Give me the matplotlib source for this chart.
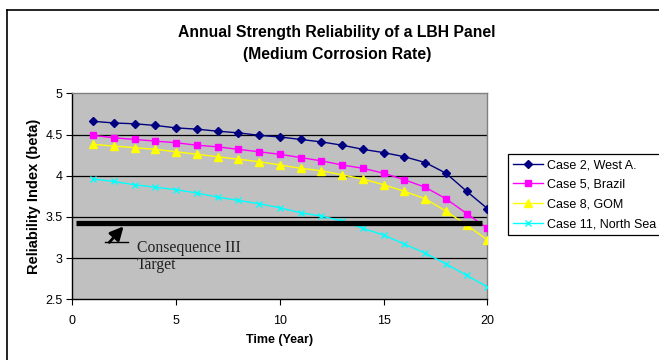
import matplotlib
matplotlib.use("Agg")
import matplotlib.pyplot as plt
from matplotlib.lines import Line2D

years = list(range(1, 21))
case2 = [4.66, 4.64, 4.63, 4.61, 4.58, 4.565, 4.54, 4.52, 4.49, 4.47,
         4.44, 4.41, 4.37, 4.32, 4.28, 4.23, 4.16, 4.03, 3.81, 3.60]
case5 = [4.49, 4.46, 4.44, 4.42, 4.40, 4.37, 4.35, 4.32, 4.29, 4.26,
         4.22, 4.18, 4.13, 4.09, 4.03, 3.95, 3.86, 3.72, 3.54, 3.36]
case8 = [4.38, 4.36, 4.34, 4.32, 4.29, 4.26, 4.23, 4.20, 4.17, 4.13,
         4.09, 4.06, 4.01, 3.96, 3.89, 3.81, 3.72, 3.57, 3.40, 3.22]
case11 = [3.96, 3.93, 3.89, 3.86, 3.83, 3.79, 3.74, 3.70, 3.66, 3.61,
          3.55, 3.51, 3.45, 3.36, 3.28, 3.17, 3.06, 2.93, 2.79, 2.65]
series_labels = ["Case 2, West A.", "Case 5, Brazil", "Case 8, GOM", "Case 11, North Sea"]
target_beta = 3.42
target_x = [0.2, 19.75]

plt.rcParams['font.family'] = ['Liberation Sans', 'DejaVu Sans']

fig = plt.figure(figsize=(6.59, 3.60), dpi=100)
fig.patch.set_facecolor('white')
ax = fig.add_axes([72.3/659, 1-299.3/360, (487.5-72.3)/659, (299.3-93.3)/360])
ax.set_facecolor('#C0C0C0')

# gridlines
for yv in [3.0, 3.5, 4.0, 4.5]:
    ax.axhline(yv, color='black', lw=0.9, zorder=1)

ax.plot(years, case2, color='#000080', marker='D', ms=4.5, lw=1.0, label=series_labels[0], zorder=3)
ax.plot(years, case5, color='#FF00FF', marker='s', ms=5.0, lw=1.0, label=series_labels[1], zorder=3)
ax.plot(years, case8, color='#FFFF00', marker='^', ms=5.5, lw=1.0, label=series_labels[2], zorder=3)
ax.plot(years, case11, color='#00FFFF', marker='x', ms=5.0, mew=1.0, lw=1.0, label=series_labels[3], zorder=3)

# target bar
ax.plot(target_x, [target_beta, target_beta], color='black', lw=3.8, solid_capstyle='butt', zorder=5)

# callout arrow
ax.plot([1.58, 2.70], [3.19, 3.19], color='black', lw=1.0, zorder=5)
ax.annotate('', xy=(2.47, 3.385), xytext=(1.78, 3.19),
            arrowprops=dict(arrowstyle='-|>,head_length=0.8,head_width=0.4', color='black', lw=2.0,
                            shrinkA=0, shrinkB=0),
            zorder=5)
ax.text(3.10, 3.225, 'Consequence III\nTarget', family=['Liberation Serif', 'DejaVu Serif'],
        fontsize=11.3, va='top', ha='left', linespacing=1.1, color='#202020', zorder=5)

ax.set_xlim(0, 20)
ax.set_ylim(2.5, 5)
ax.set_xticks([0, 5, 10, 15, 20])
ax.set_yticks([2.5, 3, 3.5, 4, 4.5, 5])
ax.set_yticklabels(['2.5', '3', '3.5', '4', '4.5', '5'])
ax.tick_params(axis='both', direction='out', length=4, width=0.8, labelsize=9, colors='black', pad=3)
ax.tick_params(axis='x', pad=7)

for side in ['top', 'right']:
    ax.spines[side].set_color('#808080')
    ax.spines[side].set_linewidth(1.0)
for side in ['left', 'bottom']:
    ax.spines[side].set_color('black')
    ax.spines[side].set_linewidth(1.0)

ax.set_xlabel('Time (Year)', fontsize=9, fontweight='bold', labelpad=5)
ax.set_ylabel('Reliability Index (beta)', fontsize=10.5, fontweight='bold', labelpad=3)

fig.text(337/659, 1-32/360, 'Annual Strength Reliability of a LBH Panel', ha='center', va='center',
         fontsize=11.3, fontweight='bold')
fig.text(337/659, 1-55/360, '(Medium Corrosion Rate)', ha='center', va='center',
         fontsize=11.3, fontweight='bold')

leg = ax.legend(loc='upper left', bbox_to_anchor=(508/659, 1-154/360), bbox_transform=fig.transFigure,
                fontsize=9, frameon=True, fancybox=False, shadow=False, framealpha=1,
                edgecolor='black', facecolor='white', handlelength=2.4, handletextpad=0.35,
                labelspacing=0.62, borderpad=0.4, borderaxespad=0)
leg.get_frame().set_linewidth(0.9)

# outer chart border (top and left visible)
fig.add_artist(Line2D([7/659, 1.0], [1-10/360, 1-10/360], transform=fig.transFigure, color='black', lw=1.2))
fig.add_artist(Line2D([7/659, 7/659], [0.0, 1-10/360], transform=fig.transFigure, color='black', lw=1.2))

fig.savefig('out.png', dpi=100, facecolor='white')
